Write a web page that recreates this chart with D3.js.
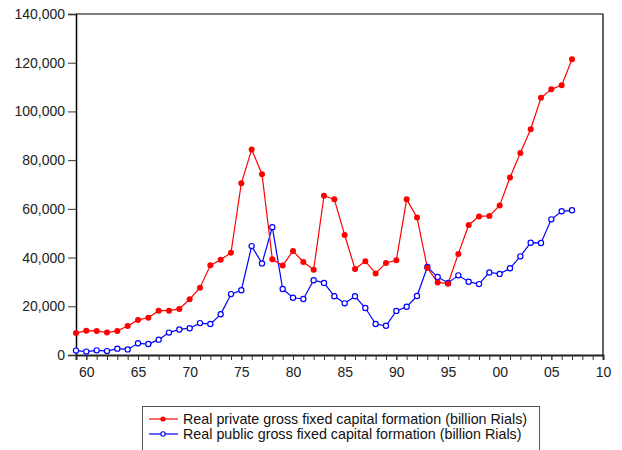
<!DOCTYPE html>
<html>
<head>
<meta charset="utf-8">
<script src="https://cdn.jsdelivr.net/npm/d3@7"></script>
<style>
  body { margin: 0; background: #fff; }
  text { font-family: "Liberation Sans", Arial, sans-serif; }
</style>
</head>
<body>
<div class="d3target"></div>
<script>
'use strict';

// years 1959 - 2007
var years = d3.range(1959, 2008);

var privateGFCF = [
	9000, 10000, 9900, 9200, 9900, 11900, 14400, 15300, 18200, 18200,
	18900, 22900, 27600, 36800, 39100, 42000, 70500, 84400, 74200, 39300,
	36700, 42700, 38200, 35000, 65400, 63900, 49300, 35300, 38500, 33500,
	37800, 38900, 63900, 56500, 35800, 29800, 29300, 41500, 53400, 56900,
	57100, 61400, 72900, 82900, 92700, 105600, 109100, 110700, 121400
];

var publicGFCF = [
	1800, 1400, 1900, 1600, 2600, 2300, 4800, 4500, 6300, 9200,
	10500, 11000, 13100, 12700, 16700, 25000, 26600, 44700, 37600, 52500,
	27100, 23500, 23000, 30700, 29600, 24100, 21200, 24100, 19300, 12700,
	12000, 18100, 19800, 24200, 36100, 32000, 29600, 32700, 30100, 29100,
	33900, 33300, 35600, 40500, 46100, 46000, 55700, 59000, 59400
];

var yTicks = [0, 20000, 40000, 60000, 80000, 100000, 120000, 140000];
var xTicks = [1960, 1965, 1970, 1975, 1980, 1985, 1990, 1995, 2000, 2005, 2010];

var seriesNames = [
	'Real private gross fixed capital formation (billion Rials)',
	'Real public gross fixed capital formation (billion Rials)'
];

window.onload = function() {
	var width = 622, height = 450;
	var left = 76, right = 603, top = 14, bottom = 355;

	var svg = d3.select(".d3target")
		.append("svg")
		.attr("width", width)
		.attr("height", height);

	var x = d3.scaleLinear().domain([1959, 2010]).range([left, right]);
	var y = d3.scaleLinear().domain([0, 140000]).range([bottom, top]);

	// frame top + right
	svg.append("path")
		.attr("d", "M" + left + "," + top + "H" + right + "V" + bottom)
		.attr("fill", "none")
		.attr("stroke", "#000")
		.attr("stroke-width", 1.2);

	// y axis
	var yAxis = svg.append("g")
		.attr("transform", "translate(" + left + ",0)")
		.call(d3.axisLeft(y).tickValues(yTicks).tickSize(8).tickPadding(3)
			.tickFormat(d3.format(",")));
	yAxis.select(".domain").attr("stroke", "#000").attr("stroke-width", 1.5);
	yAxis.selectAll(".tick line").attr("stroke", "#333");
	yAxis.selectAll("text").attr("fill", "#222").style("font-size", "14px");

	// x axis, minor ticks every year
	var xMinor = svg.append("g")
		.attr("transform", "translate(0," + bottom + ")")
		.call(d3.axisBottom(x).tickValues(d3.range(1959, 2011)).tickSize(5).tickFormat(""));
	xMinor.select(".domain").attr("stroke", "#222").attr("stroke-width", 2);
	xMinor.selectAll(".tick line").attr("stroke", "#333");

	var xAxis = svg.append("g")
		.attr("transform", "translate(0," + bottom + ")")
		.call(d3.axisBottom(x).tickValues(xTicks).tickSize(5).tickPadding(7)
			.tickFormat(function(d) { return d3.format("02")(d % 100); }));
	xAxis.select(".domain").remove();
	xAxis.selectAll(".tick line").attr("stroke", "#333");
	xAxis.selectAll("text").attr("fill", "#222").style("font-size", "14px");

	var line = d3.line()
		.x(function(d, i) { return x(years[i]); })
		.y(function(d) { return y(d); });

	// public (blue) first so red sits on top at crossings
	svg.append("path")
		.datum(publicGFCF)
		.attr("d", line)
		.attr("fill", "none")
		.attr("stroke", "#0000ff")
		.attr("stroke-width", 1.2);
	svg.append("path")
		.datum(privateGFCF)
		.attr("d", line)
		.attr("fill", "none")
		.attr("stroke", "#ff0000")
		.attr("stroke-width", 1.2);

	svg.selectAll(".pub")
		.data(publicGFCF)
		.enter().append("circle")
		.attr("class", "pub")
		.attr("cx", function(d, i) { return x(years[i]); })
		.attr("cy", function(d) { return y(d); })
		.attr("r", 2.6)
		.attr("fill", "#fff")
		.attr("stroke", "#0000ff")
		.attr("stroke-width", 1.2);

	svg.selectAll(".priv")
		.data(privateGFCF)
		.enter().append("circle")
		.attr("class", "priv")
		.attr("cx", function(d, i) { return x(years[i]); })
		.attr("cy", function(d) { return y(d); })
		.attr("r", 3)
		.attr("fill", "#ff0000");

	// legend
	var legend = svg.append("g");
	legend.append("rect")
		.attr("x", 142.5).attr("y", 406.5)
		.attr("width", 397).attr("height", 60)
		.attr("fill", "#fff")
		.attr("stroke", "#555");

	var colors = ['#ff0000', '#0000ff'];
	seriesNames.forEach(function(name, i) {
		var ly = 419 + i * 15;
		legend.append("line")
			.attr("x1", 149).attr("x2", 178)
			.attr("y1", ly).attr("y2", ly)
			.attr("stroke", colors[i]).attr("stroke-width", 1.2);
		if (i == 0) {
			legend.append("circle").attr("cx", 163).attr("cy", ly).attr("r", 2.6)
				.attr("fill", colors[i]);
		} else {
			legend.append("circle").attr("cx", 163).attr("cy", ly).attr("r", 2.2)
				.attr("fill", "#fff").attr("stroke", colors[i]).attr("stroke-width", 1.1);
		}
		legend.append("text")
			.attr("x", 183).attr("y", ly + 5)
			.attr("fill", "#111")
			.style("font-size", "14.3px")
			.text(name);
	});
};
</script>
</body>
</html>
